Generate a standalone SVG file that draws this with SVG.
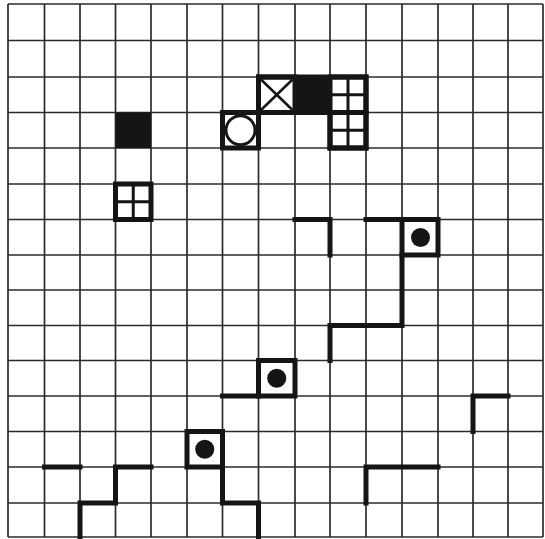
<svg xmlns="http://www.w3.org/2000/svg" width="545" height="539" viewBox="0 0 545 539">
<style>
.grid line{stroke:#2b2b2b;stroke-width:1.7}
.thick{stroke:#151515;stroke-width:5;fill:none;stroke-linecap:square;stroke-linejoin:miter}
.box{stroke:#151515;stroke-width:5;fill:#fff}
.solid{fill:#151515}
.cross{stroke:#151515;stroke-width:3;fill:none}
.xline{stroke:#151515;stroke-width:2.5}
.dot{fill:#151515}
</style>
<rect width="545" height="539" fill="#fff"/>
<g class="grid" id="grid">
<line x1="8" y1="4" x2="8" y2="537"/>
<line x1="44.5" y1="4" x2="44.5" y2="537"/>
<line x1="80" y1="4" x2="80" y2="537"/>
<line x1="115.5" y1="4" x2="115.5" y2="537"/>
<line x1="151" y1="4" x2="151" y2="537"/>
<line x1="187" y1="4" x2="187" y2="537"/>
<line x1="222.5" y1="4" x2="222.5" y2="537"/>
<line x1="258.5" y1="4" x2="258.5" y2="537"/>
<line x1="295" y1="4" x2="295" y2="537"/>
<line x1="330" y1="4" x2="330" y2="537"/>
<line x1="366" y1="4" x2="366" y2="537"/>
<line x1="402" y1="4" x2="402" y2="537"/>
<line x1="438" y1="4" x2="438" y2="537"/>
<line x1="473" y1="4" x2="473" y2="537"/>
<line x1="508" y1="4" x2="508" y2="537"/>
<line x1="543" y1="4" x2="543" y2="537"/>
<line x1="8" y1="4" x2="543" y2="4"/>
<line x1="8" y1="40.5" x2="543" y2="40.5"/>
<line x1="8" y1="77" x2="543" y2="77"/>
<line x1="8" y1="112.5" x2="543" y2="112.5"/>
<line x1="8" y1="148" x2="543" y2="148"/>
<line x1="8" y1="184" x2="543" y2="184"/>
<line x1="8" y1="219.5" x2="543" y2="219.5"/>
<line x1="8" y1="255" x2="543" y2="255"/>
<line x1="8" y1="290" x2="543" y2="290"/>
<line x1="8" y1="325.5" x2="543" y2="325.5"/>
<line x1="8" y1="360.5" x2="543" y2="360.5"/>
<line x1="8" y1="396" x2="543" y2="396"/>
<line x1="8" y1="431.5" x2="543" y2="431.5"/>
<line x1="8" y1="467" x2="543" y2="467"/>
<line x1="8" y1="503" x2="543" y2="503"/>
<line x1="8" y1="537" x2="543" y2="537"/>
</g>
<g id="connectors">
<polyline class="thick" points="295,219.5 330,219.5 330,255"/>
<polyline class="thick" points="366,219.5 402,219.5"/>
<polyline class="thick" points="402,255 402,325.5 330,325.5 330,360.5"/>
<polyline class="thick" points="222.5,396 258.5,396"/>
<polyline class="thick" points="222.5,467 222.5,503 258.5,503 258.5,537"/>
<polyline class="thick" points="44.5,467 80,467"/>
<polyline class="thick" points="151,467 115.5,467 115.5,503 80,503 80,537"/>
<polyline class="thick" points="508,396 473,396 473,431.5"/>
<polyline class="thick" points="438,467 366,467 366,503"/>
</g>
<g id="node-solid-a">
<rect class="solid" x="115.5" y="112.5" width="35.5" height="35.5"/>
</g>
<g id="node-circle">
<rect class="box" x="222.5" y="112.5" width="36" height="35.5"/>
<circle cx="240.5" cy="130.25" r="14.5" fill="none" stroke="#151515" stroke-width="3"/>
</g>
<g id="node-cluster">
<rect class="box" x="258.5" y="77" width="36.5" height="35.5"/>
<line class="xline" x1="261" y1="79.5" x2="292.5" y2="110"/>
<line class="xline" x1="292.5" y1="79.5" x2="261" y2="110"/>
<rect class="solid" x="295" y="77" width="35" height="35.5"/>
<rect class="box" x="330" y="77" width="36" height="35.5"/>
<line class="cross" x1="348" y1="77" x2="348" y2="112.5"/>
<line class="cross" x1="330" y1="94.75" x2="366" y2="94.75"/>
<rect class="box" x="330" y="112.5" width="36" height="35.5" style="fill:none"/>
<line class="cross" x1="348" y1="112.5" x2="348" y2="148"/>
<line class="cross" x1="330" y1="130.25" x2="366" y2="130.25"/>
<polygon class="thick" points="258.5,77 366,77 366,148 330,148 330,112.5 258.5,112.5"/>
</g>
<g id="node-window-b">
<rect class="box" x="115.5" y="184" width="35.5" height="35.5"/>
<line class="cross" x1="133.25" y1="184" x2="133.25" y2="219.5"/>
<line class="cross" x1="115.5" y1="201.75" x2="151" y2="201.75"/>
</g>
<g id="node-dot-a">
<rect class="box" x="402" y="219.5" width="36" height="35.5"/>
<circle class="dot" cx="420.5" cy="237.5" r="9.5"/>
</g>
<g id="node-dot-b">
<rect class="box" x="258.5" y="360.5" width="36.5" height="35.5"/>
<circle class="dot" cx="276.75" cy="378.25" r="9.5"/>
</g>
<g id="node-dot-c">
<rect class="box" x="187" y="431.5" width="35.5" height="35.5"/>
<circle class="dot" cx="204.75" cy="449.25" r="9.5"/>
</g>
</svg>
